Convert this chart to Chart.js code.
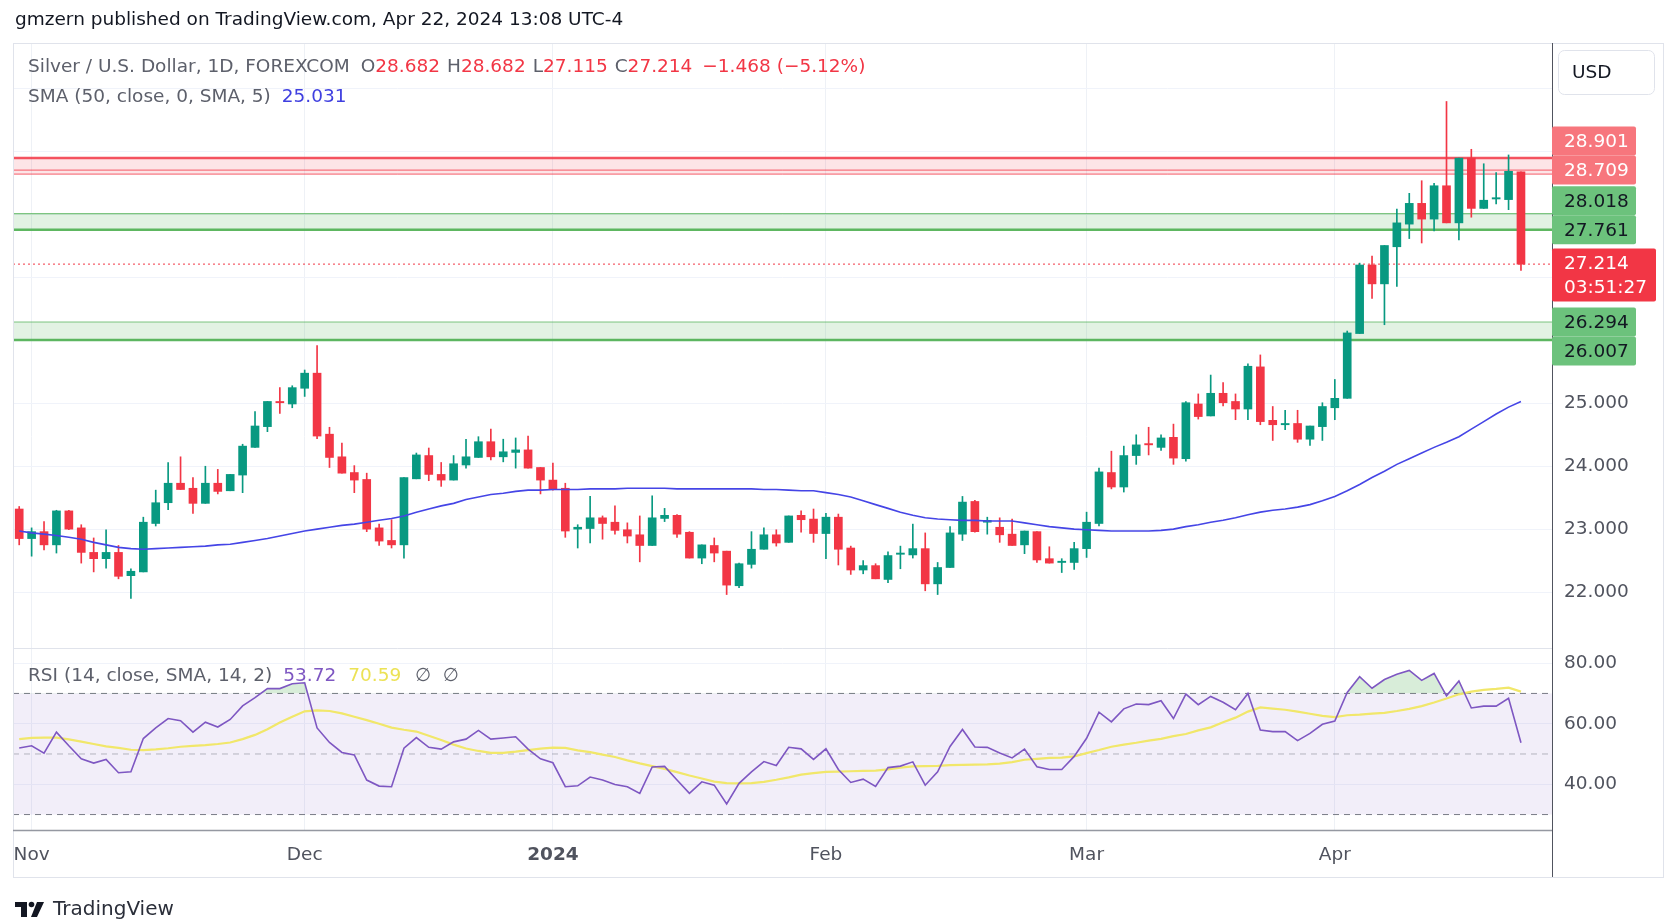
<!DOCTYPE html>
<html>
<head>
<meta charset="utf-8">
<title>Silver / U.S. Dollar, 1D</title>
<script src="https://cdn.jsdelivr.net/npm/chart.js@4.4.1/dist/chart.umd.min.js"></script>
<style>
  html, body { margin: 0; padding: 0; background: #fff; }
  canvas { display: block; }
</style>
</head>
<body>
<canvas id="silverChart" width="1673" height="921"></canvas>
<script>
// daily bars, FOREXCOM XAGUSD
const dates = [
  '2023-10-31',
  '2023-11-01','2023-11-02','2023-11-03','2023-11-06','2023-11-07','2023-11-08','2023-11-09','2023-11-10',
  '2023-11-13','2023-11-14','2023-11-15','2023-11-16','2023-11-17','2023-11-20','2023-11-21','2023-11-22',
  '2023-11-23','2023-11-24','2023-11-27','2023-11-28','2023-11-29','2023-11-30',
  '2023-12-01','2023-12-04','2023-12-05','2023-12-06','2023-12-07','2023-12-08','2023-12-11','2023-12-12',
  '2023-12-13','2023-12-14','2023-12-15','2023-12-18','2023-12-19','2023-12-20','2023-12-21','2023-12-22',
  '2023-12-26','2023-12-27','2023-12-28','2023-12-29',
  '2024-01-02','2024-01-03','2024-01-04','2024-01-05','2024-01-08','2024-01-09','2024-01-10','2024-01-11',
  '2024-01-12','2024-01-15','2024-01-16','2024-01-17','2024-01-18','2024-01-19','2024-01-22','2024-01-23',
  '2024-01-24','2024-01-25','2024-01-26','2024-01-29','2024-01-30','2024-01-31',
  '2024-02-01','2024-02-02','2024-02-05','2024-02-06','2024-02-07','2024-02-08','2024-02-09','2024-02-12',
  '2024-02-13','2024-02-14','2024-02-15','2024-02-16','2024-02-19','2024-02-20','2024-02-21','2024-02-22',
  '2024-02-23','2024-02-26','2024-02-27','2024-02-28','2024-02-29',
  '2024-03-01','2024-03-04','2024-03-05','2024-03-06','2024-03-07','2024-03-08','2024-03-11','2024-03-12',
  '2024-03-13','2024-03-14','2024-03-15','2024-03-18','2024-03-19','2024-03-20','2024-03-21','2024-03-22',
  '2024-03-25','2024-03-26','2024-03-27','2024-03-28',
  '2024-04-01','2024-04-02','2024-04-03','2024-04-04','2024-04-05','2024-04-08','2024-04-09','2024-04-10',
  '2024-04-11','2024-04-12','2024-04-15','2024-04-16','2024-04-17','2024-04-18','2024-04-19','2024-04-22'
];

const opens = [
  23.32, 22.85, 22.96, 22.75, 23.29, 23.02, 22.63, 22.53, 22.63, 22.26,
  22.32, 23.09, 23.42, 23.73, 23.65, 23.41, 23.73, 23.61, 23.86, 24.30,
  24.63, 25.03, 24.99, 25.24, 25.48, 24.51, 24.15, 23.90, 23.79, 23.02,
  22.82, 22.75, 23.80, 24.17, 23.87, 23.78, 24.02, 24.14, 24.39, 24.15,
  24.22, 24.26, 23.98, 23.78, 23.65, 23.00, 23.01, 23.18, 23.11, 22.99,
  22.91, 22.74, 23.17, 23.22, 22.95, 22.54, 22.74, 22.65, 22.10, 22.44,
  22.68, 22.91, 22.79, 23.22, 23.16, 22.93, 23.19, 22.70, 22.35, 22.42,
  22.20, 22.60, 22.59, 22.69, 22.13, 22.39, 22.92, 23.44, 23.11, 23.03,
  22.92, 22.75, 22.96, 22.53, 22.47, 22.47, 22.69, 23.09, 23.90, 23.67,
  24.17, 24.36, 24.30, 24.46, 24.12, 24.99, 24.80, 25.16, 25.03, 24.91,
  25.58, 24.73, 24.66, 24.68, 24.43, 24.63, 24.93, 25.08, 26.11, 27.20,
  26.90, 27.49, 27.85, 28.18, 27.93, 28.46, 27.87, 28.90, 28.10, 28.25,
  28.24, 28.682
];
const highs = [
  23.36, 23.02, 23.12, 23.30, 23.30, 23.07, 22.86, 22.99, 22.74, 22.37,
  23.19, 23.62, 24.06, 24.15, 23.82, 24.00, 23.95, 23.87, 24.35, 24.87,
  25.03, 25.25, 25.28, 25.53, 25.92, 24.62, 24.37, 24.01, 23.89, 23.08,
  23.15, 23.82, 24.21, 24.29, 24.06, 24.17, 24.43, 24.47, 24.59, 24.43,
  24.45, 24.48, 23.98, 24.05, 23.73, 23.07, 23.52, 23.21, 23.37, 23.10,
  23.21, 23.53, 23.33, 23.23, 22.96, 22.75, 22.86, 22.65, 22.46, 22.96,
  23.02, 22.99, 23.21, 23.29, 23.32, 23.25, 23.24, 22.73, 22.50, 22.45,
  22.64, 22.73, 23.08, 22.94, 22.47, 23.04, 23.52, 23.46, 23.19, 23.18,
  23.16, 22.97, 22.96, 22.72, 22.53, 22.79, 23.27, 23.97, 24.24, 24.32,
  24.50, 24.62, 24.50, 24.67, 25.03, 25.15, 25.45, 25.33, 25.15, 25.63,
  25.77, 24.95, 24.89, 24.89, 24.64, 25.01, 25.38, 26.15, 27.23, 27.34,
  27.51, 28.09, 28.34, 28.54, 28.50, 29.80, 28.90, 29.04, 28.81, 28.67,
  28.95, 28.682
];
const lows = [
  22.75, 22.57, 22.67, 22.62, 22.99, 22.46, 22.32, 22.38, 22.21, 21.90,
  22.32, 23.05, 23.31, 23.63, 23.25, 23.41, 23.56, 23.61, 23.58, 24.30,
  24.55, 24.84, 24.93, 25.11, 24.44, 23.98, 23.89, 23.58, 22.96, 22.74,
  22.70, 22.54, 23.80, 23.77, 23.68, 23.78, 23.97, 24.14, 24.10, 24.07,
  23.97, 23.97, 23.56, 23.62, 22.87, 22.70, 22.78, 22.84, 22.92, 22.78,
  22.48, 22.74, 23.12, 22.87, 22.54, 22.45, 22.48, 21.96, 22.07, 22.38,
  22.68, 22.73, 22.79, 22.95, 22.79, 22.53, 22.43, 22.28, 22.29, 22.21,
  22.15, 22.37, 22.54, 22.02, 21.96, 22.39, 22.82, 22.95, 22.92, 22.79,
  22.74, 22.61, 22.47, 22.46, 22.31, 22.36, 22.55, 23.05, 23.64, 23.59,
  24.03, 24.18, 24.25, 24.03, 24.08, 24.75, 24.80, 24.96, 24.74, 24.74,
  24.66, 24.41, 24.58, 24.38, 24.33, 24.41, 24.74, 25.08, 26.11, 26.67,
  26.25, 26.86, 27.62, 27.55, 27.74, 27.87, 27.60, 27.96, 28.10, 28.17,
  28.08, 27.115
];
const closes = [
  22.85, 22.96, 22.75, 23.29, 23.00, 22.63, 22.53, 22.63, 22.25, 22.33,
  23.11, 23.42, 23.73, 23.63, 23.41, 23.73, 23.60, 23.87, 24.32, 24.64,
  25.03, 25.01, 25.25, 25.48, 24.48, 24.14, 23.89, 23.78, 23.00, 22.81,
  22.75, 23.82, 24.18, 23.87, 23.78, 24.04, 24.15, 24.39, 24.15, 24.23,
  24.26, 23.97, 23.78, 23.63, 22.97, 23.03, 23.18, 23.09, 22.98, 22.89,
  22.74, 23.18, 23.22, 22.92, 22.54, 22.75, 22.62, 22.11, 22.45, 22.68,
  22.91, 22.78, 23.21, 23.15, 22.93, 23.19, 22.68, 22.35, 22.42, 22.21,
  22.58, 22.62, 22.69, 22.13, 22.39, 22.94, 23.43, 22.96, 23.14, 22.91,
  22.74, 22.97, 22.51, 22.46, 22.49, 22.69, 23.11, 23.91, 23.67, 24.17,
  24.34, 24.34, 24.45, 24.13, 25.01, 24.79, 25.16, 25.01, 24.91, 25.59,
  24.71, 24.66, 24.68, 24.43, 24.64, 24.95, 25.08, 26.12, 27.20, 26.90,
  27.51, 27.87, 28.18, 27.93, 28.46, 27.87, 28.90, 28.10, 28.23, 28.27,
  28.69, 27.214
];
const prevClose = 28.682;

// SMA (50, close, 0, SMA, 5)
const sma50 = [
  22.97, 22.94, 22.92, 22.90, 22.87, 22.84, 22.79, 22.75, 22.71, 22.69,
  22.68, 22.69, 22.70, 22.71, 22.72, 22.73, 22.75, 22.76, 22.79, 22.82,
  22.85, 22.89, 22.93, 22.97, 23.00, 23.03, 23.06, 23.08, 23.11, 23.14,
  23.17, 23.21, 23.27, 23.32, 23.37, 23.41, 23.47, 23.51, 23.55, 23.57,
  23.60, 23.62, 23.62, 23.63, 23.63, 23.63, 23.64, 23.64, 23.64, 23.65,
  23.65, 23.65, 23.65, 23.64, 23.64, 23.64, 23.64, 23.64, 23.64, 23.64,
  23.63, 23.63, 23.62, 23.61, 23.61, 23.58, 23.55, 23.51, 23.45, 23.39,
  23.33, 23.27, 23.22, 23.18, 23.16, 23.15, 23.14, 23.14, 23.13, 23.13,
  23.13, 23.10, 23.07, 23.04, 23.02, 23.00, 22.99, 22.98, 22.97, 22.97,
  22.97, 22.97, 22.98, 23.00, 23.04, 23.07, 23.11, 23.14, 23.18, 23.23,
  23.27, 23.30, 23.32, 23.35, 23.39, 23.45, 23.52, 23.61, 23.71, 23.82,
  23.92, 24.03, 24.12, 24.21, 24.30, 24.38, 24.47, 24.59, 24.71, 24.83,
  24.94, 25.031
];

// RSI (14, close) and its SMA 14
const rsi14 = [
  52.0, 52.7, 50.3, 57.2, 52.7, 48.4, 47.0, 48.2, 43.8, 44.1,
  55.1, 58.6, 61.7, 61.0, 57.2, 60.5, 58.9, 61.4, 65.9, 68.6,
  71.6, 71.6, 73.2, 73.5, 58.6, 53.8, 50.5, 49.7, 41.4, 39.4,
  39.2, 51.9, 55.4, 52.2, 51.6, 54.0, 54.9, 57.8, 54.9, 55.3,
  55.7, 51.6, 48.4, 47.1, 39.2, 39.5, 42.4, 41.4, 39.9, 39.2,
  37.0, 45.7, 45.9, 41.4, 37.0, 40.8, 39.7, 33.5, 40.3, 44.1,
  47.5, 46.2, 52.2, 51.7, 48.2, 51.7, 44.9, 40.6, 41.7, 39.3,
  45.5, 46.0, 47.4, 39.7, 44.1, 52.5, 58.1, 52.3, 52.2, 50.3,
  48.7, 51.6, 45.8, 44.9, 44.9, 49.2, 55.2, 63.8, 60.6, 64.9,
  66.5, 66.3, 67.6, 61.7, 69.8, 66.3, 69.0, 67.1, 64.6, 70.0,
  57.9, 57.4, 57.4, 54.4, 56.8, 59.8, 60.9, 70.3, 75.5, 71.7,
  74.6, 76.3, 77.6, 74.3, 76.6, 69.2, 74.1, 65.2, 65.8, 65.8,
  68.4, 53.72
];
const rsiMa = [
  54.9, 55.3, 55.4, 55.4, 54.8, 54.1, 53.3, 52.5, 52.0, 51.4,
  51.3, 51.5, 51.9, 52.4, 52.7, 52.9, 53.3, 53.8, 54.9, 56.3,
  58.2, 60.4, 62.3, 64.1, 64.4, 64.2, 63.4, 62.3, 61.2, 60.0,
  58.7, 58.0, 57.4, 56.0, 54.6, 53.1, 51.8, 51.0, 50.4, 50.4,
  50.8, 51.3, 51.8, 52.1, 52.0, 51.2, 50.6, 49.8, 49.0, 47.9,
  46.9, 46.0, 45.1, 44.0, 42.9, 41.9, 40.9, 40.4, 40.3, 40.4,
  40.8, 41.5, 42.3, 43.2, 43.7, 44.1, 44.2, 44.3, 44.4, 44.5,
  44.9, 45.5, 45.9, 46.0, 46.1, 46.3, 46.4, 46.5, 46.6, 46.8,
  47.3, 48.1, 48.4, 48.7, 48.8, 49.2, 50.3, 51.3, 52.4, 53.1,
  53.7, 54.4, 55.0, 55.9, 56.6, 57.8, 58.8, 60.5, 62.0, 64.0,
  65.4, 65.0, 64.6, 64.0, 63.3, 62.6, 62.2, 62.8, 63.0, 63.3,
  63.6, 64.2, 64.9, 65.8, 67.0, 68.3, 69.7, 70.6, 71.2, 71.5,
  71.9, 70.59
];

const monthTicks = {
  '2023-11-01': 'Nov', '2023-12-01': 'Dec', '2024-01-02': '2024',
  '2024-02-01': 'Feb', '2024-03-01': 'Mar', '2024-04-01': 'Apr'
};
const priceTicks = [22, 23, 24, 25, 26, 27, 28, 29, 30];
const priceLabelMax = 25;
const rsiTicks = [40, 60, 80];
const rsiLevels = [70, 50, 30];

// drawn levels
const resistance = [28.901, 28.709];
const supportHigh = [28.018, 27.761];
const supportLow = [26.294, 26.007];
const countdown = '03:51:27';

const UP = '#089981';
const DOWN = '#f23645';
const FONT = '"DejaVu Sans", Verdana, sans-serif';
const TEXT = '#131722';
const AXIS_TEXT = '#50535e';
const LEGEND_GREY = '#5d606b';
const FS = 18.5;

Chart.defaults.font.family = FONT;

const labels = dates.concat(['', '']);   // empty slots keep space at the right edge
const candleColors = dates.map((d, i) => closes[i] >= opens[i] ? UP : DOWN);

function text(ctx, str, x, y, color, size, weight) {
  ctx.font = (weight || 'normal') + ' ' + size + 'px ' + FONT;
  ctx.fillStyle = color;
  ctx.textBaseline = 'middle';
  ctx.textAlign = 'left';
  ctx.fillText(str, x, y);
  return ctx.measureText(str).width;
}

function hline(ctx, a, py, color, width, dash) {
  ctx.save();
  ctx.strokeStyle = color;
  ctx.lineWidth = width;
  ctx.setLineDash(dash || []);
  ctx.beginPath();
  ctx.moveTo(a.left, py);
  ctx.lineTo(a.right, py);
  ctx.stroke();
  ctx.restore();
}

function tag(ctx, x, cy, w, h, bg, fg, lines) {
  ctx.fillStyle = bg;
  ctx.beginPath();
  ctx.roundRect(x, cy - h / 2, w, h, 2);
  ctx.fill();
  lines.forEach((s, k) => text(ctx, s, x + 12, cy - (lines.length - 1) * 12 + k * 24 + 1, fg, FS));
}

const overlay = {
  id: 'overlay',
  beforeDatasetsDraw(chart) {
    const { ctx, chartArea: a, scales } = chart;
    const y = scales.y, r = scales.rsi;
    const py = v => y.getPixelForValue(v);

    ctx.save();
    ctx.beginPath();
    ctx.rect(a.left, y.top, a.right - a.left, y.bottom - y.top);
    ctx.clip();
    // resistance zone
    ctx.fillStyle = 'rgba(242,54,69,0.13)';
    ctx.fillRect(a.left, py(resistance[0]), a.right - a.left, py(resistance[1]) - py(resistance[0]) + 4);
    hline(ctx, a, py(resistance[0]), 'rgba(242,54,69,0.85)', 2.5);
    hline(ctx, a, py(resistance[1]), 'rgba(242,54,69,0.8)', 1);
    hline(ctx, a, py(resistance[1]) + 4, 'rgba(242,54,69,0.8)', 1);
    // support zones
    [supportHigh, supportLow].forEach(z => {
      ctx.fillStyle = 'rgba(76,175,80,0.16)';
      ctx.fillRect(a.left, py(z[0]), a.right - a.left, py(z[1]) - py(z[0]));
      hline(ctx, a, py(z[0]), 'rgba(76,175,80,0.7)', 1.2);
      hline(ctx, a, py(z[1]), 'rgba(76,175,80,0.9)', 2.5);
    });
    hline(ctx, a, py(closes[closes.length - 1]), DOWN, 1, [2, 3]);
    ctx.restore();

    // RSI band
    const t = r.getPixelForValue(rsiLevels[0]), b = r.getPixelForValue(rsiLevels[2]);
    ctx.fillStyle = 'rgba(126,87,194,0.1)';
    ctx.fillRect(a.left, t, a.right - a.left, b - t);
    hline(ctx, a, t, '#787b86', 1, [6, 5]);
    hline(ctx, a, r.getPixelForValue(rsiLevels[1]), 'rgba(120,123,134,0.5)', 1, [6, 5]);
    hline(ctx, a, b, '#787b86', 1, [6, 5]);
  },
  afterDraw(chart) {
    const { ctx, chartArea: a, scales } = chart;
    const y = scales.y, r = scales.rsi, x = scales.x;
    const last = closes.length - 1;
    ctx.save();

    // frame and pane separators
    ctx.strokeStyle = '#e0e3eb';
    ctx.lineWidth = 1;
    ctx.strokeRect(13.5, a.top + 0.5, 1650, x.bottom - a.top);
    ctx.beginPath();
    ctx.moveTo(13, y.bottom + 0.5); ctx.lineTo(a.right, y.bottom + 0.5);
    ctx.stroke();
    ctx.strokeStyle = '#9598a1';
    ctx.lineWidth = 1.5;
    ctx.beginPath();
    ctx.moveTo(13, a.bottom + 0.5); ctx.lineTo(a.right, a.bottom + 0.5);
    ctx.stroke();
    ctx.strokeStyle = '#50535e';
    ctx.lineWidth = 1;
    ctx.beginPath();
    ctx.moveTo(a.right + 0.5, a.top); ctx.lineTo(a.right + 0.5, x.bottom);
    ctx.stroke();

    // header
    text(ctx, 'gmzern published on TradingView.com, Apr 22, 2024 13:08 UTC-4', 15, 20, TEXT, FS);

    // price legend
    let cx = 28;
    cx += text(ctx, 'Silver / U.S. Dollar, 1D, FOREXCOM', cx, 67, LEGEND_GREY, FS) + 11;
    [['O', opens[last]], ['H', highs[last]], ['L', lows[last]], ['C', closes[last]]].forEach(p => {
      cx += text(ctx, p[0], cx, 67, LEGEND_GREY, FS);
      cx += text(ctx, p[1].toFixed(3), cx, 67, DOWN, FS) + 7;
    });
    const chg = closes[last] - prevClose;
    text(ctx, (chg < 0 ? '\u2212' : '+') + Math.abs(chg).toFixed(3) + ' (' + (chg < 0 ? '\u2212' : '+') +
      Math.abs(chg / prevClose * 100).toFixed(2) + '%)', cx + 3, 67, DOWN, FS);
    cx = 28;
    cx += text(ctx, 'SMA (50, close, 0, SMA, 5)', cx, 97, LEGEND_GREY, FS) + 11;
    text(ctx, sma50[last].toFixed(3), cx, 97, '#3f3fe0', FS);

    // RSI legend
    cx = 28;
    cx += text(ctx, 'RSI (14, close, SMA, 14, 2)', cx, r.top + 28, LEGEND_GREY, FS) + 11;
    cx += text(ctx, rsi14[last].toFixed(2), cx, r.top + 28, '#7e57c2', FS) + 12;
    cx += text(ctx, rsiMa[last].toFixed(2), cx, r.top + 28, '#ece255', FS) + 14;
    text(ctx, '\u2205  \u2205', cx, r.top + 28, LEGEND_GREY, FS);

    // USD box
    ctx.strokeStyle = '#e0e3eb';
    ctx.lineWidth = 1;
    ctx.beginPath();
    ctx.roundRect(a.right + 6.5, 50.5, 96, 44, 6);
    ctx.stroke();
    text(ctx, 'USD', a.right + 20, 73, TEXT, FS);

    // price tags on the axis
    const tagW = 84, tagH = 29;
    [[resistance, 1, '#f7767d', '#ffffff'], [supportHigh, 1, '#6cc27c', TEXT], [supportLow, 0, '#6cc27c', TEXT]]
      .forEach(([lv, anchor, bg, fg]) => {
        const c = y.getPixelForValue(lv[anchor]);
        const other = anchor === 1 ? c - tagH : c + tagH;
        tag(ctx, a.right, anchor === 1 ? other : c, tagW, tagH, bg, fg, [lv[0].toFixed(3)]);
        tag(ctx, a.right, anchor === 1 ? c : other, tagW, tagH, bg, fg, [lv[1].toFixed(3)]);
      });
    const lp = y.getPixelForValue(closes[last]);
    tag(ctx, a.right, lp + 11, 104, 53, DOWN, '#ffffff', [closes[last].toFixed(3), countdown]);

    // TradingView mark
    ctx.fillStyle = TEXT;
    ctx.fillRect(15, 902, 12, 5);
    ctx.fillRect(21, 902, 6, 15);
    ctx.beginPath(); ctx.arc(31.5, 904.5, 2.8, 0, Math.PI * 2); ctx.fill();
    ctx.beginPath();
    ctx.moveTo(37, 902); ctx.lineTo(44, 902); ctx.lineTo(37, 917); ctx.lineTo(31, 917);
    ctx.closePath(); ctx.fill();
    text(ctx, 'TradingView', 53, 910, '#2a2e39', 20);
    ctx.restore();
  }
};

const ctx = document.getElementById('silverChart').getContext('2d');
new Chart(ctx, {
  data: {
    labels: labels,
    datasets: [
      {
        type: 'bar', label: 'wick', yAxisID: 'y', order: 4,
        data: dates.map((d, i) => [lows[i], highs[i]]),
        backgroundColor: candleColors, barThickness: 1, grouped: false
      },
      {
        type: 'bar', label: 'body', yAxisID: 'y', order: 3,
        data: dates.map((d, i) => [opens[i], closes[i]]),
        backgroundColor: candleColors, barThickness: 8, minBarLength: 1, grouped: false
      },
      {
        type: 'line', label: 'SMA 50', yAxisID: 'y', order: 2,
        data: sma50, borderColor: '#4545e6', borderWidth: 1.6, pointRadius: 0
      },
      {
        type: 'line', label: 'RSI MA', yAxisID: 'rsi', order: 1,
        data: rsiMa, borderColor: '#f1e76a', borderWidth: 2.2, pointRadius: 0
      },
      {
        type: 'line', label: 'RSI', yAxisID: 'rsi', order: 0,
        data: rsi14, borderColor: '#7e57c2', borderWidth: 1.6, pointRadius: 0,
        fill: { target: { value: 70 }, above: 'rgba(76,175,80,0.22)', below: 'rgba(0,0,0,0)' }
      }
    ]
  },
  options: {
    responsive: false,
    animation: false,
    layout: { padding: { left: 13, top: 43, right: 10, bottom: 44 } },
    plugins: { legend: { display: false }, tooltip: { enabled: false } },
    scales: {
      x: {
        type: 'category',
        offset: true,
        border: { display: false },
        grid: {
          offset: false,
          drawTicks: false,
          color: c => (c.tick && monthTicks[labels[c.index]]) ? '#eef1f6' : 'rgba(0,0,0,0)'
        },
        ticks: {
          autoSkip: false,
          maxRotation: 0,
          padding: 14,
          color: AXIS_TEXT,
          font: c => ({ size: FS, weight: (c.tick && c.tick.label === '2024') ? 'bold' : 'normal' }),
          callback: (v, i) => monthTicks[labels[i]] || ''
        },
        afterFit: s => { s.height = 47; }
      },
      y: {
        position: 'right',
        stack: 'panes',
        stackWeight: 605,
        min: 21.11,
        max: 30.73,
        border: { display: false },
        grid: { color: '#f0f3fa', drawTicks: false },
        afterBuildTicks: s => { s.ticks = priceTicks.map(v => ({ value: v })); },
        ticks: {
          padding: 12,
          color: AXIS_TEXT,
          font: { size: FS },
          callback: v => v <= priceLabelMax ? v.toFixed(3) : ''
        },
        afterFit: s => { s.width = 111; }
      },
      rsi: {
        position: 'right',
        stack: 'panes',
        stackWeight: 182,
        min: 24.9,
        max: 85,
        border: { display: false },
        grid: { color: '#f0f3fa', drawTicks: false },
        afterBuildTicks: s => { s.ticks = rsiTicks.map(v => ({ value: v })); },
        ticks: {
          padding: 12,
          color: AXIS_TEXT,
          font: { size: FS },
          callback: v => v.toFixed(2)
        },
        afterFit: s => { s.width = 111; }
      }
    }
  },
  plugins: [overlay]
});
</script>
</body>
</html>
